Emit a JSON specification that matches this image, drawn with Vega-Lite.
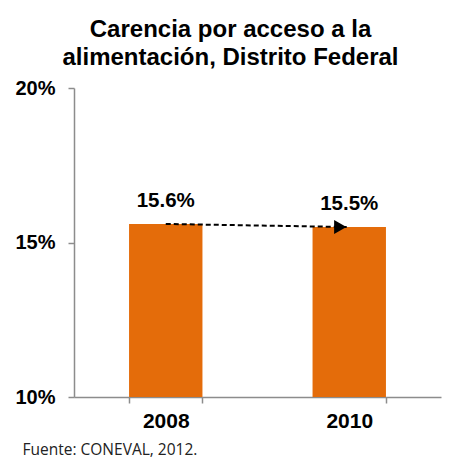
{
  "$schema": "https://vega.github.io/schema/vega-lite/v6.json",
  "width": 367,
  "height": 309,
  "autosize": {"type": "none"},
  "padding": {"left": 74, "top": 88, "right": 14, "bottom": 62},
  "background": "white",
  "title": {
    "text": ["Carencia por acceso a la", "alimentación, Distrito Federal"],
    "font": "Liberation Sans",
    "fontSize": 24,
    "fontWeight": "bold",
    "color": "black",
    "anchor": "middle",
    "dx": -27,
    "offset": 8,
    "lineHeight": 28
  },
  "config": {"view": {"stroke": null}},
  "data": {
    "values": [
      {"year": "2008", "value": 15.6, "label": "15.6%"},
      {"year": "2010", "value": 15.5, "label": "15.5%"}
    ]
  },
  "encoding": {
    "x": {
      "field": "year",
      "type": "nominal",
      "scale": {"paddingInner": 0.6, "paddingOuter": 0.3},
      "axis": {
        "labelAngle": 0,
        "labelFont": "Liberation Sans",
        "labelFontSize": 21,
        "labelFontWeight": "bold",
        "labelColor": "black",
        "labelPadding": 7,
        "domainColor": "#8c8c8c",
        "domainWidth": 1.5,
        "tickColor": "#8c8c8c",
        "tickWidth": 1.5,
        "tickSize": 6,
        "tickBand": "extent",
        "title": "Fuente: CONEVAL, 2012.",
        "titleFont": "Open Sans",
        "titleFontSize": 15.5,
        "titleFontWeight": "normal",
        "titleColor": "#222222",
        "titleAnchor": "start",
        "titleAlign": "left",
        "titleBaseline": "alphabetic",
        "titleX": -52,
        "titleY": 57
      }
    },
    "y": {
      "field": "value",
      "type": "quantitative",
      "scale": {"domain": [10, 20]},
      "axis": {
        "values": [10, 15, 20],
        "labelExpr": "datum.value + '%'",
        "labelFont": "Liberation Sans",
        "labelFontSize": 20,
        "labelFontWeight": "bold",
        "labelColor": "black",
        "labelPadding": 13,
        "grid": false,
        "domainColor": "#8c8c8c",
        "domainWidth": 1.5,
        "tickColor": "#8c8c8c",
        "tickWidth": 1.5,
        "tickSize": 6,
        "title": null
      }
    }
  },
  "layer": [
    {"mark": {"type": "bar", "color": "#E46C0A", "clip": true}},
    {
      "mark": {"type": "line", "color": "black", "strokeDash": [5, 3], "strokeWidth": 2},
      "encoding": {}
    },
    {
      "transform": [{"filter": "datum.year == '2010'"}],
      "mark": {"type": "point", "shape": "triangle-right", "filled": true, "color": "black", "size": 200, "opacity": 1, "xOffset": -9}
    },
    {
      "mark": {"type": "text", "font": "Liberation Sans", "fontSize": 20.5, "fontWeight": "bold", "color": "black", "baseline": "bottom", "dy": -13},
      "encoding": {"text": {"field": "label"}}
    }
  ]
}
